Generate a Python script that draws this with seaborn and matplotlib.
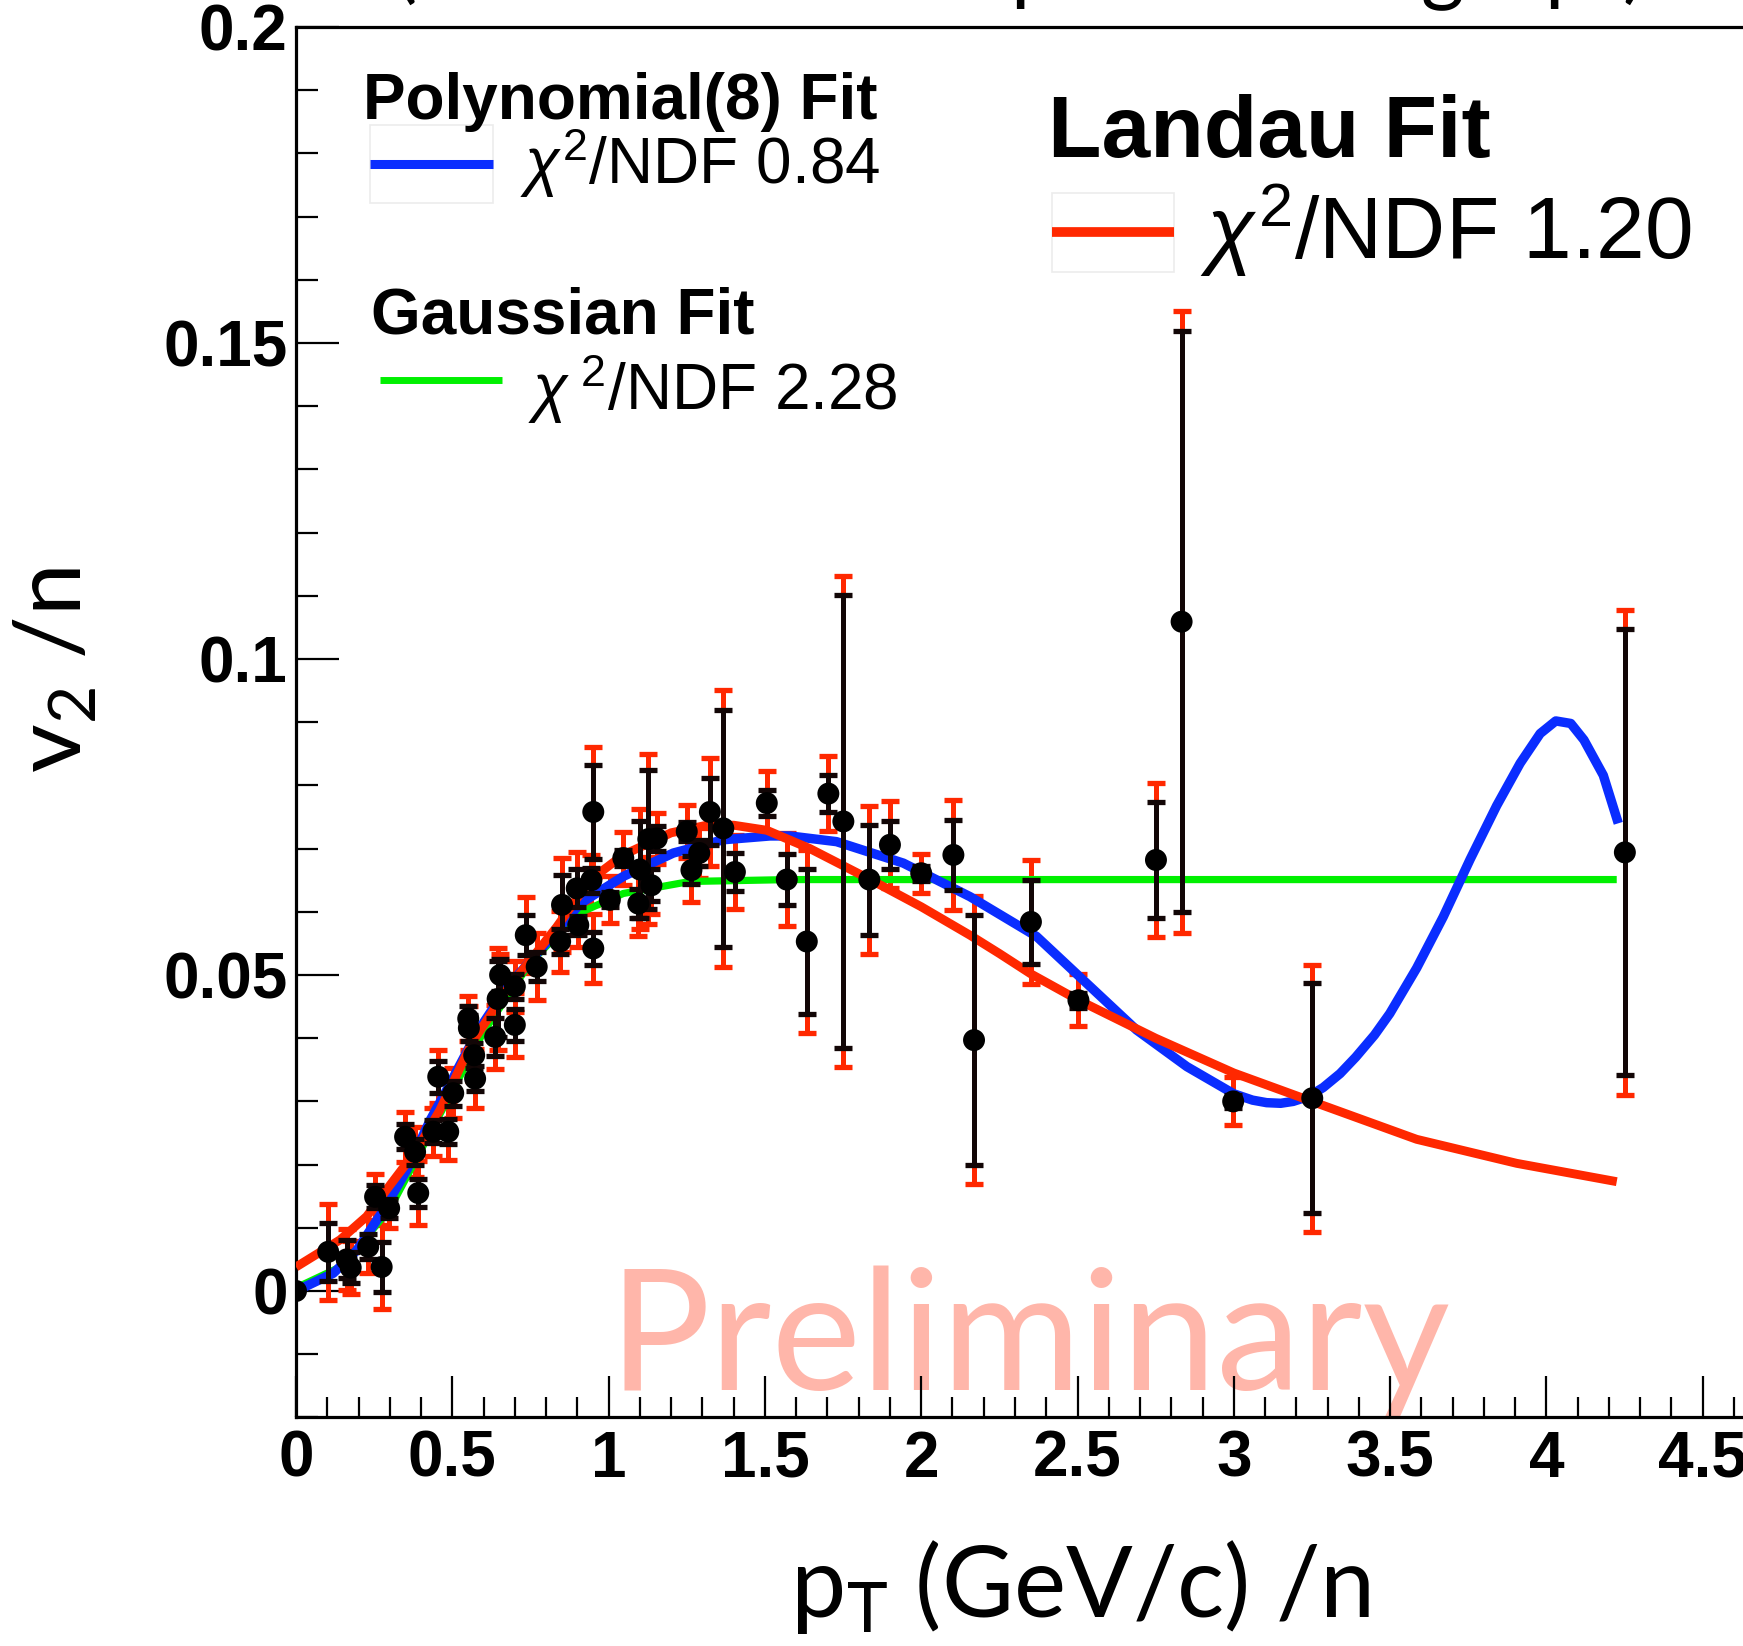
import numpy as np
import pandas as pd
import matplotlib
matplotlib.use("Agg")
import matplotlib.pyplot as plt
import seaborn as sns
from matplotlib.lines import Line2D
from matplotlib.patches import Rectangle
from matplotlib.ticker import FixedLocator, MultipleLocator

# ---------------- data ----------------
pt_x = [0.000, 0.103, 0.162, 0.175, 0.231, 0.253, 0.274, 0.298, 0.349, 0.381,
        0.391, 0.439, 0.455, 0.487, 0.503, 0.551, 0.553, 0.570, 0.573, 0.637,
        0.645, 0.653, 0.700, 0.700, 0.735, 0.770, 0.845, 0.851, 0.898, 0.903,
        0.945, 0.951, 0.951, 1.004, 1.047, 1.095, 1.100, 1.127, 1.137, 1.154,
        1.250, 1.265, 1.290, 1.324, 1.367, 1.404, 1.506, 1.570, 1.634, 1.703,
        1.751, 1.834, 1.900, 2.000, 2.103, 2.169, 2.351, 2.503, 2.751, 2.833,
        2.998, 3.251, 4.251]
v2_y = [0.0000, 0.0062, 0.0050, 0.0037, 0.0070, 0.0149, 0.0038, 0.0131, 0.0244, 0.0220,
        0.0155, 0.0252, 0.0339, 0.0252, 0.0313, 0.0431, 0.0416, 0.0373, 0.0336, 0.0402,
        0.0462, 0.0500, 0.0482, 0.0421, 0.0563, 0.0513, 0.0553, 0.0611, 0.0637, 0.0579,
        0.0650, 0.0758, 0.0542, 0.0619, 0.0685, 0.0613, 0.0667, 0.0715, 0.0642, 0.0716,
        0.0727, 0.0666, 0.0693, 0.0758, 0.0732, 0.0663, 0.0772, 0.0651, 0.0553, 0.0787,
        0.0743, 0.0651, 0.0706, 0.0661, 0.0690, 0.0397, 0.0584, 0.0460, 0.0682, 0.1059,
        0.0300, 0.0305, 0.0694]
stat_err = [0.0000, 0.0046, 0.0030, 0.0025, 0.0020, 0.0018, 0.0040, 0.0015, 0.0020, 0.0020,
            0.0022, 0.0018, 0.0025, 0.0020, 0.0020, 0.0020, 0.0020, 0.0020, 0.0020, 0.0030,
            0.0060, 0.0025, 0.0020, 0.0025, 0.0032, 0.0023, 0.0020, 0.0047, 0.0030, 0.0015,
            0.0020, 0.0074, 0.0026, 0.0012, 0.0012, 0.0023, 0.0077, 0.0110, 0.0025, 0.0020,
            0.0015, 0.0022, 0.0020, 0.0053, 0.0188, 0.0030, 0.0021, 0.0040, 0.0114, 0.0029,
            0.0359, 0.0087, 0.0038, 0.0012, 0.0055, 0.0198, 0.0067, 0.0012, 0.0092, 0.0460,
            0.0010, 0.0182, 0.0353]
total_err = [0.0000, 0.0076, 0.0048, 0.0042, 0.0042, 0.0036, 0.0066, 0.0032, 0.0040, 0.0040,
             0.0050, 0.0038, 0.0042, 0.0045, 0.0040, 0.0035, 0.0035, 0.0040, 0.0047, 0.0050,
             0.0080, 0.0034, 0.0040, 0.0050, 0.0060, 0.0053, 0.0048, 0.0074, 0.0058, 0.0034,
             0.0040, 0.0103, 0.0055, 0.0037, 0.0042, 0.0052, 0.0095, 0.0135, 0.0045, 0.0040,
             0.0042, 0.0050, 0.0040, 0.0085, 0.0219, 0.0058, 0.0050, 0.0073, 0.0144, 0.0059,
             0.0389, 0.0117, 0.0069, 0.0031, 0.0087, 0.0228, 0.0098, 0.0041, 0.0122, 0.0492,
             0.0038, 0.0211, 0.0384]

poly_x = [0.0, 0.119, 0.194, 0.28, 0.354, 0.429, 0.482, 0.578, 0.674, 0.791, 0.909,
          1.047, 1.207, 1.367, 1.516, 1.58, 1.729, 1.943, 2.156, 2.369, 2.529, 2.689,
          2.85, 3.0, 3.06, 3.105, 3.15, 3.19, 3.24, 3.286, 3.34, 3.39, 3.45, 3.499, 3.585,
          3.67, 3.756, 3.841, 3.916, 3.98, 4.03, 4.078, 4.12, 4.182, 4.23]
poly_y = [0.0, 0.0028, 0.0064, 0.0128, 0.0191, 0.0270, 0.0318, 0.0408, 0.0480, 0.0545, 0.0613,
          0.0656, 0.0693, 0.0714, 0.0720, 0.0720, 0.0711, 0.0677, 0.0624, 0.0561, 0.0487, 0.0413,
          0.0355, 0.0312, 0.0302, 0.0298, 0.0297, 0.0300, 0.0308, 0.0322, 0.0344, 0.0370, 0.0405,
          0.0439, 0.0511, 0.0592, 0.0683, 0.0768, 0.0835, 0.0882, 0.0902, 0.0898, 0.0872, 0.0816, 0.0740]

landau_x = [0.0, 0.141, 0.226, 0.30, 0.386, 0.46, 0.562, 0.674, 0.834, 0.94, 1.047, 1.2,
            1.314, 1.4, 1.506, 1.644, 1.837, 2.0, 2.156, 2.25, 2.35, 2.5, 2.75, 3.0,
            3.25, 3.585, 3.905, 4.225]
landau_y = [0.0038, 0.0081, 0.0118, 0.0167, 0.0223, 0.0286, 0.0392, 0.0476, 0.0576, 0.0650, 0.0690, 0.0725,
            0.0737, 0.0737, 0.0729, 0.0700, 0.0651, 0.0608, 0.0563, 0.0534, 0.0502, 0.0461, 0.0400, 0.0345,
            0.0300, 0.0240, 0.0202, 0.0173]

gauss_x = [0.0, 0.15, 0.3, 0.45, 0.6, 0.75, 0.906, 1.047, 1.26, 1.58, 2.0, 3.0, 4.225]
gauss_y = [0.0005, 0.0040, 0.0130, 0.0270, 0.0410, 0.0520, 0.0598, 0.0629, 0.0648, 0.0651, 0.0651, 0.0651, 0.0651]

x_ticks = [0, 0.5, 1, 1.5, 2, 2.5, 3, 3.5, 4, 4.5]
x_tick_labels = ["0", "0.5", "1", "1.5", "2", "2.5", "3", "3.5", "4", "4.5"]
y_ticks = [0, 0.05, 0.1, 0.15, 0.2]
y_tick_labels = ["0", "0.05", "0.1", "0.15", "0.2"]

# ---------------- style ----------------
sns.set_theme(style="white")
plt.rcParams['font.family'] = ['Liberation Sans', 'DejaVu Sans']
plt.rcParams['text.color'] = 'black'
plt.rcParams['axes.labelcolor'] = 'black'
plt.rcParams['mathtext.fontset'] = 'custom'
plt.rcParams['mathtext.rm'] = 'Lato'
plt.rcParams['mathtext.it'] = 'Liberation Sans:italic'
plt.rcParams['mathtext.sf'] = 'Liberation Sans'
plt.rcParams['mathtext.bf'] = 'Liberation Sans:bold'

BLUE = '#0a2dff'
RED = '#ff2800'
GREEN = '#00f000'

W, H = 1743, 1646
fig = plt.figure(figsize=(W / 100, H / 100), dpi=100)
fig.patch.set_facecolor('white')


def fx(x):
    return x / W


def fy(y):
    return 1 - y / H


x0_px, x5_px = 296, 296 + 5 * 312.6
ytop_px, ybot_px = 27, 1417.4
ax = fig.add_axes([fx(x0_px), fy(ybot_px), (x5_px - x0_px) / W, (ybot_px - ytop_px) / H])
ax.set_facecolor('white')

# systematic (red) error bars
ax.errorbar(pt_x, v2_y, yerr=total_err, fmt='none', ecolor=RED, elinewidth=3.6,
            capsize=6.5, capthick=3.8, zorder=2)

# fit curves
curve_w = [5.2, 6.8, 6.4]
sns.lineplot(x=gauss_x, y=gauss_y, ax=ax, color=GREEN, linewidth=curve_w[0], estimator=None, sort=False, zorder=3)
sns.lineplot(x=poly_x, y=poly_y, ax=ax, color=BLUE, linewidth=curve_w[1], estimator=None, sort=False, zorder=3)
sns.lineplot(x=landau_x, y=landau_y, ax=ax, color=RED, linewidth=curve_w[2], estimator=None, sort=False, zorder=3)
for ln, w in zip(ax.get_lines()[-3:], curve_w):
    ln.set_linewidth(w)
    ln.set_solid_capstyle('butt')
    ln.set_solid_joinstyle('round')

# statistical (black) error bars and points
ax.errorbar(pt_x, v2_y, yerr=stat_err, fmt='none', ecolor='#120606', elinewidth=3.6,
            capsize=6.5, capthick=3.8, zorder=4)
sns.scatterplot(x=pt_x, y=v2_y, ax=ax, color='black', s=250, edgecolor='none', linewidth=0,
                zorder=5, legend=False)

ax.set_xlim(0, 5)
ax.set_ylim(-0.02, 0.2)
ax.set_xlabel('')
ax.set_ylabel('')
ax.xaxis.set_major_locator(FixedLocator(x_ticks))
ax.set_xticklabels(x_tick_labels)
ax.xaxis.set_minor_locator(MultipleLocator(0.1))
ax.yaxis.set_major_locator(FixedLocator(y_ticks))
ax.set_yticklabels(y_tick_labels)
ax.yaxis.set_minor_locator(MultipleLocator(0.01))
ax.tick_params(which='both', direction='in', top=False, right=False, bottom=True, left=True,
               color='black', width=1.6, labelcolor='black')
ax.tick_params(axis='y', which='major', length=31, pad=6, labelsize=46)
ax.tick_params(axis='y', which='minor', length=16)
ax.tick_params(axis='x', which='major', length=29.5, pad=9, labelsize=46)
ax.tick_params(axis='x', which='minor', length=14.5)
for lbl in ax.get_xticklabels() + ax.get_yticklabels():
    lbl.set_fontweight('bold')
for side in ['left', 'bottom', 'top']:
    ax.spines[side].set_color('black')
    ax.spines[side].set_linewidth(2.3)
    ax.spines[side].set_visible(True)
ax.spines['right'].set_visible(False)
ax.grid(False)

# watermark
ax.text(fx(608), fy(1390), 'Preliminary', transform=fig.transFigure, fontsize=122,
        family='Lato', color='#ffb6aa', ha='left', va='baseline', zorder=0.5, clip_on=False)

# axis titles
fig.text(fx(1080), fy(1617), r'p$_{\mathrm{T}}$ (GeV/c) /n', fontsize=71, family='Lato',
         ha='center', va='baseline', color='black')
fig.text(fx(55), fy(670), r'v$_{\mathrm{2}}$ /n', fontsize=68, family='Lato',
         ha='center', va='center', rotation=90, color='black')

# cropped title fragments at the very top
for xp, ch in [(405, '('), (1034, 'p'), (1442, 'g'), (1567, 'p'), (1634, ')')]:
    fig.text(fx(xp), fy(-6), ch, fontsize=60, family='Lato', ha='center', va='baseline', color='black')

# legends
fig.add_artist(Rectangle((fx(370), fy(203)), (493 - 370) / W, (203 - 125) / H, fill=False,
                         ec='#ececec', lw=1.2, transform=fig.transFigure))
fig.add_artist(Line2D([fx(370), fx(493)], [fy(164)] * 2, color=BLUE, lw=6.5,
                      solid_capstyle='butt', transform=fig.transFigure))
fig.text(fx(363), fy(119), 'Polynomial(8) Fit', fontsize=46, fontweight='bold', ha='left', va='baseline', color='black')
fig.text(fx(520), fy(184), r'$\chi^{\mathsf{2}}$/NDF 0.84', fontsize=46, ha='left', va='baseline', color='black')

fig.add_artist(Line2D([fx(380), fx(502)], [fy(380)] * 2, color=GREEN, lw=5,
                      solid_capstyle='butt', transform=fig.transFigure))
fig.text(fx(371), fy(333), 'Gaussian Fit', fontsize=46, fontweight='bold', ha='left', va='baseline', color='black')
fig.text(fx(528), fy(410), r'$\chi^{\;\mathsf{2}}$/NDF 2.28', fontsize=46, ha='left', va='baseline', color='black')

fig.add_artist(Rectangle((fx(1052), fy(272)), (1174 - 1052) / W, (272 - 193) / H, fill=False,
                         ec='#ececec', lw=1.2, transform=fig.transFigure))
fig.add_artist(Line2D([fx(1052), fx(1174)], [fy(232)] * 2, color=RED, lw=7,
                      solid_capstyle='butt', transform=fig.transFigure))
fig.text(fx(1048), fy(157), 'Landau Fit', fontsize=63, fontweight='bold', ha='left', va='baseline', color='black')
fig.text(fx(1200), fy(259), r'$\chi^{\mathsf{2}}$/NDF 1.20', fontsize=63, ha='left', va='baseline', color='black')

fig.savefig('out.png', dpi=100, facecolor='white')
